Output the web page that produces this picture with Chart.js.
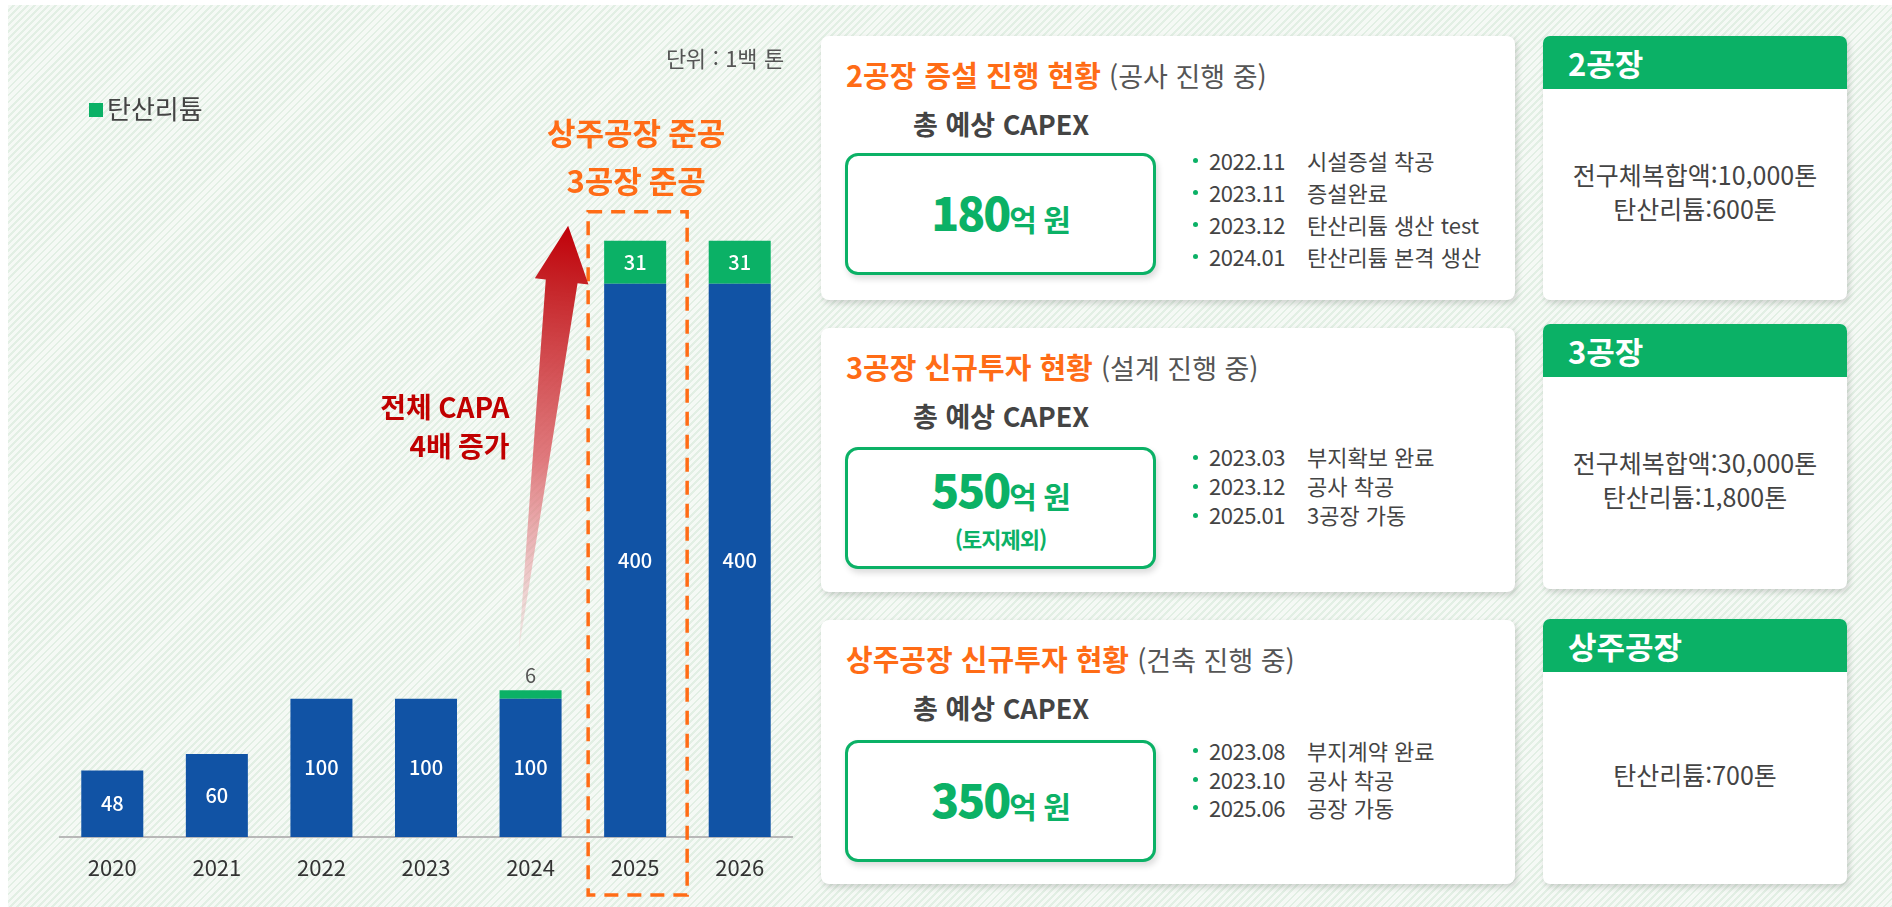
<!DOCTYPE html>
<html lang="ko">
<head>
<meta charset="utf-8">
<script src="https://cdn.jsdelivr.net/npm/chart.js@4.4.0/dist/chart.umd.min.js"></script>
<style>
  html, body { margin: 0; padding: 0; background: #fff; }
  body { width: 1892px; height: 907px; position: relative; overflow: hidden;
         font-family: "Noto Sans CJK KR", "Noto Sans", sans-serif; color: #444; }
  #bg { position: absolute; left: 8px; top: 5px; right: 0; bottom: 0;
        background: repeating-linear-gradient(135deg, #f5f9f5 0 3px, #e2efe4 3px 5px); }
  #chartWrap { position: absolute; left: 0; top: 0; width: 800px; height: 907px; }
  .unit { position: absolute; right: 1108px; top: 41px; font-size: 22px; color: #555; letter-spacing: -0.3px; word-spacing: 1px; }
  .legend { position: absolute; left: 89px; top: 92px; font-size: 26px; color: #444; line-height: 32px; }
  .legend i { display: inline-block; width: 14px; height: 14px; background: #0bb166; margin-right: 4px; vertical-align: 2px; }

  .card { position: absolute; left: 821px; width: 694px; height: 264px; background: #fff;
          border-radius: 8px; box-shadow: 2px 3px 6px rgba(0,0,0,0.16); }
  .card .title { position: absolute; left: 25px; top: 18px; line-height: 40px; font-size: 29px; white-space: nowrap; }
  .card .title b { color: #ff6c16; font-weight: 700; }
  .card .title span { color: #555; font-size: 27px; }
  .card .capex { position: absolute; left: 92px; top: 69px; line-height: 38px; font-size: 27px; font-weight: 600; color: #444; }
  .card .box { position: absolute; left: 24px; width: 311px; height: 122px; box-sizing: border-box;
               border: 3px solid #0bb166; border-radius: 13px; background: #fff;
               box-shadow: 2px 4px 6px rgba(0,0,0,0.14);
               display: flex; flex-direction: column; align-items: center; justify-content: center; color: #0bb166; font-weight: 700; }
  .card .amt { font-size: 30px; line-height: 48px; letter-spacing: -1px; }
  .card .amt b { font-size: 46px; letter-spacing: -2px; }
  .card .sub { font-size: 22px; line-height: 30px; letter-spacing: -1px; margin-top: 4px; }
  .card ul { position: absolute; left: 372px; margin: 0; padding: 0; list-style: none; font-size: 22px; color: #444; }
  .card li { position: relative; padding-left: 16px; white-space: nowrap; }
  .card li::before { content: ""; position: absolute; left: 0; top: 50%; width: 5px; height: 5px; margin-top: -2px; border-radius: 50%; background: #0bb166; }
  .card li .d { display: inline-block; width: 98px; letter-spacing: -0.5px; }

  .side { position: absolute; left: 1543px; width: 304px; background: #fff; border-radius: 7px;
          box-shadow: 2px 3px 6px rgba(0,0,0,0.16); overflow: hidden; }
  .side .hd { height: 53px; background: #0bb166; color: #fff; font-size: 31px; font-weight: 600; line-height: 53px; padding-left: 25px; }
  .side .bd { position: absolute; left: 0; right: 0; top: 53px; bottom: 0; display: flex; flex-direction: column;
              align-items: center; justify-content: center; font-size: 25px; line-height: 34px; color: #444; padding-bottom: 8px; box-sizing: border-box; }
</style>
</head>
<body>
<div id="bg"></div>
<div id="chartWrap"><canvas id="capaChart" width="800" height="907"></canvas></div>
<div class="unit">단위 : 1백 톤</div>
<div class="legend"><i></i>탄산리튬</div>

<div class="card" style="top:36px">
  <div class="title"><b>2공장 증설 진행 현황</b> <span>(공사 진행 중)</span></div>
  <div class="capex">총 예상 CAPEX</div>
  <div class="box" style="top:117px"><div class="amt"><b>180</b>억 원</div></div>
  <ul style="top:108px; line-height:32px">
    <li><span class="d">2022.11</span>시설증설 착공</li>
    <li><span class="d">2023.11</span>증설완료</li>
    <li><span class="d">2023.12</span>탄산리튬 생산 test</li>
    <li><span class="d">2024.01</span>탄산리튬 본격 생산</li>
  </ul>
</div>

<div class="card" style="top:328px">
  <div class="title"><b>3공장 신규투자 현황</b> <span>(설계 진행 중)</span></div>
  <div class="capex">총 예상 CAPEX</div>
  <div class="box" style="top:119px"><div class="amt"><b>550</b>억 원</div><div class="sub">(토지제외)</div></div>
  <ul style="top:114px; line-height:29px">
    <li><span class="d">2023.03</span>부지확보 완료</li>
    <li><span class="d">2023.12</span>공사 착공</li>
    <li><span class="d">2025.01</span>3공장 가동</li>
  </ul>
</div>

<div class="card" style="top:620px">
  <div class="title"><b>상주공장 신규투자 현황</b> <span>(건축 진행 중)</span></div>
  <div class="capex">총 예상 CAPEX</div>
  <div class="box" style="top:120px"><div class="amt"><b>350</b>억 원</div></div>
  <ul style="top:116px; line-height:28.5px">
    <li><span class="d">2023.08</span>부지계약 완료</li>
    <li><span class="d">2023.10</span>공사 착공</li>
    <li><span class="d">2025.06</span>공장 가동</li>
  </ul>
</div>

<div class="side" style="top:36px; height:264px">
  <div class="hd">2공장</div>
  <div class="bd"><div>전구체복합액:10,000톤</div><div>탄산리튬:600톤</div></div>
</div>
<div class="side" style="top:324px; height:265px">
  <div class="hd">3공장</div>
  <div class="bd"><div>전구체복합액:30,000톤</div><div>탄산리튬:1,800톤</div></div>
</div>
<div class="side" style="top:619px; height:265px">
  <div class="hd">상주공장</div>
  <div class="bd"><div>탄산리튬:700톤</div></div>
</div>

<script>
// Data (unit: 100 tons)
const years = ['2020', '2021', '2022', '2023', '2024', '2025', '2026'];
const precursor = [48, 60, 100, 100, 100, 400, 400];   // 전구체복합액
const lithium = [null, null, null, null, 6, 31, 31];    // 탄산리튬

const BLUE = '#1153a5';
const GREEN = '#0bb166';
const ORANGE = '#ff6c16';
const DARKRED = '#c00000';
const FONT = '"Noto Sans CJK KR", "Noto Sans", sans-serif';

// value labels on each bar segment
const barLabels = {
  id: 'barLabels',
  afterDatasetsDraw(chart) {
    const ctx = chart.ctx;
    ctx.save();
    ctx.textAlign = 'center';
    ctx.textBaseline = 'middle';
    chart.data.datasets.forEach((ds, di) => {
      chart.getDatasetMeta(di).data.forEach((bar, i) => {
        const v = ds.data[i];
        if (v == null) return;
        const h = Math.abs(bar.base - bar.y);
        if (h < 20) {
          ctx.fillStyle = '#555';
          ctx.font = '400 20px ' + FONT;
          ctx.fillText(v, bar.x, bar.y - 15);
        } else {
          ctx.fillStyle = '#fff';
          ctx.font = '500 20px ' + FONT;
          ctx.fillText(v, bar.x, (bar.y + bar.base) / 2);
        }
      });
    });
    ctx.restore();
  }
};

// dashed box, growth arrow and notes
const notes = {
  id: 'notes',
  afterDatasetsDraw(chart) {
    const { ctx, scales: { x, y } } = chart;
    const total = i => precursor[i] + (lithium[i] || 0);
    const cx = x.getPixelForValue(5);
    const boxTop = y.getPixelForValue(total(5)) - 29;

    ctx.save();
    // dashed frame around 2025
    ctx.setLineDash([14, 9]);
    ctx.strokeStyle = ORANGE;
    ctx.lineWidth = 3.5;
    ctx.strokeRect(cx - 47, boxTop, 99, 895 - boxTop);
    ctx.setLineDash([]);

    // arrow from 2024 to 2025
    const tail = { x: x.getPixelForValue(4) - 12, y: y.getPixelForValue(total(4)) - 39 };
    const tip = { x: cx - 67, y: y.getPixelForValue(total(5)) - 15 };
    const len = Math.hypot(tip.x - tail.x, tip.y - tail.y);
    const d = { x: (tip.x - tail.x) / len, y: (tip.y - tail.y) / len };
    const n = { x: -d.y, y: d.x };
    const headLen = 56, headW = 27, shaftW = 16;
    const base = { x: tip.x - d.x * headLen, y: tip.y - d.y * headLen };
    const grad = ctx.createLinearGradient(tail.x, tail.y, tip.x, tip.y);
    grad.addColorStop(0, 'rgba(236,160,168,0.15)');
    grad.addColorStop(0.45, 'rgba(220,100,105,0.85)');
    grad.addColorStop(0.85, '#c6262a');
    grad.addColorStop(1, '#c00008');
    ctx.fillStyle = grad;
    ctx.beginPath();
    ctx.moveTo(tail.x, tail.y);
    ctx.lineTo(base.x + n.x * shaftW, base.y + n.y * shaftW);
    ctx.lineTo(base.x + n.x * headW, base.y + n.y * headW);
    ctx.lineTo(tip.x, tip.y);
    ctx.lineTo(base.x - n.x * headW, base.y - n.y * headW);
    ctx.lineTo(base.x - n.x * shaftW, base.y - n.y * shaftW);
    ctx.closePath();
    ctx.fill();

    // texts
    ctx.textBaseline = 'middle';
    ctx.textAlign = 'center';
    ctx.fillStyle = ORANGE;
    ctx.font = '700 31px ' + FONT;
    ctx.fillText('상주공장 준공', cx + 1, boxTop - 79);
    ctx.fillText('3공장 준공', cx + 1, boxTop - 31);

    ctx.textAlign = 'right';
    ctx.fillStyle = DARKRED;
    ctx.font = '700 28px ' + FONT;
    const rx = x.getPixelForValue(4) - 21;
    ctx.fillText('전체 CAPA', rx, 407);
    ctx.fillText('4배 증가', rx, 446);
    ctx.restore();
  }
};

new Chart(document.getElementById('capaChart'), {
  type: 'bar',
  data: {
    labels: years,
    datasets: [
      { label: '전구체복합액', data: precursor, backgroundColor: BLUE },
      { label: '탄산리튬', data: lithium, backgroundColor: GREEN }
    ]
  },
  options: {
    responsive: false,
    animation: false,
    layout: { padding: { left: 60, right: 8, top: 173, bottom: 0 } },
    datasets: { bar: { barPercentage: 0.593, categoryPercentage: 1 } },
    plugins: { legend: { display: false }, tooltip: { enabled: false } },
    scales: {
      x: {
        stacked: true,
        grid: { display: false, drawTicks: false },
        border: { display: true, color: '#b8b8b8', width: 2 },
        ticks: { color: '#333', font: { family: FONT, size: 22 }, padding: 17 },
        afterFit(scale) { scale.height = 70; }
      },
      y: {
        stacked: true,
        display: false,
        min: 0,
        max: 480
      }
    }
  },
  plugins: [barLabels, notes]
});
</script>
</body>
</html>
